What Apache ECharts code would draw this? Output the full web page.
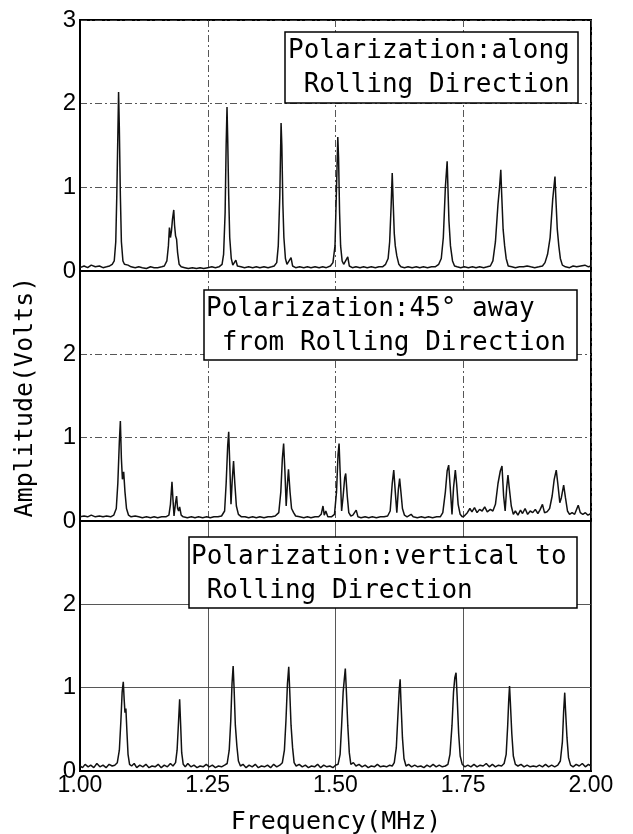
<!DOCTYPE html>
<html>
<head>
<meta charset="utf-8">
<script src="https://cdn.jsdelivr.net/npm/echarts@6/dist/echarts.min.js"></script>
<style>html,body{margin:0;padding:0;background:#fff}#c{width:633px;height:834px}</style>
</head>
<body>
<div id="c"></div>
<script>
// ---- data (frequency MHz, amplitude V) ----
var xTicks = [1.00, 1.25, 1.50, 1.75, 2.00];
var yTicks = [0, 1, 2, 3];
var panelLabels = [
  "Polarization:along\n Rolling Direction",
  "Polarization:45° away\n from Rolling Direction",
  "Polarization:vertical to\n Rolling Direction"
];
var xTitle = "Frequency(MHz)";
var yTitle = "Amplitude(Volts)";

var spectrumAlong = [
[1.000,0.04],[1.008,0.06],[1.015,0.04],[1.022,0.07],[1.030,0.05],[1.038,0.06],[1.045,0.04],[1.052,0.05],[1.058,0.06],[1.063,0.08],
[1.067,0.12],[1.070,0.35],[1.072,0.9],[1.074,1.6],[1.0755,2.14],[1.077,1.7],[1.079,0.9],[1.081,0.35],[1.084,0.12],[1.087,0.08],
[1.090,0.10],[1.094,0.07],[1.100,0.05],[1.108,0.04],[1.115,0.05],[1.122,0.04],[1.130,0.03],[1.138,0.05],[1.145,0.04],[1.152,0.04],
[1.160,0.05],[1.165,0.06],[1.170,0.12],[1.173,0.30],[1.175,0.52],[1.177,0.40],[1.179,0.48],[1.181,0.62],[1.1835,0.73],[1.185,0.55],
[1.187,0.42],[1.189,0.38],[1.191,0.22],[1.194,0.08],[1.198,0.05],[1.205,0.04],[1.212,0.03],[1.220,0.04],[1.228,0.03],[1.235,0.04],
[1.242,0.03],[1.250,0.04],[1.258,0.05],[1.265,0.04],[1.272,0.05],[1.278,0.08],[1.281,0.20],[1.284,0.7],[1.286,1.5],[1.2877,1.96],
[1.289,1.6],[1.291,0.9],[1.293,0.4],[1.296,0.15],[1.299,0.07],[1.301,0.06],[1.305,0.13],[1.308,0.06],[1.315,0.05],[1.322,0.04],
[1.330,0.05],[1.338,0.04],[1.345,0.05],[1.352,0.04],[1.360,0.05],[1.368,0.04],[1.375,0.05],[1.380,0.06],[1.385,0.10],[1.388,0.30],
[1.391,0.9],[1.3935,1.77],[1.395,1.5],[1.397,0.8],[1.399,0.4],[1.402,0.15],[1.405,0.08],[1.408,0.08],[1.413,0.16],[1.416,0.06],
[1.422,0.04],[1.430,0.05],[1.438,0.04],[1.445,0.05],[1.452,0.04],[1.460,0.05],[1.468,0.04],[1.475,0.05],[1.482,0.04],[1.490,0.06],
[1.495,0.10],[1.499,0.30],[1.502,1.0],[1.5045,1.60],[1.506,1.35],[1.508,0.7],[1.510,0.3],[1.513,0.12],[1.516,0.08],[1.519,0.07],
[1.524,0.17],[1.527,0.06],[1.533,0.04],[1.540,0.05],[1.548,0.04],[1.555,0.05],[1.562,0.04],[1.570,0.05],[1.578,0.04],[1.585,0.05],
[1.592,0.05],[1.598,0.08],[1.603,0.15],[1.606,0.35],[1.609,0.8],[1.611,1.17],[1.613,0.8],[1.615,0.45],[1.617,0.30],[1.620,0.18],
[1.624,0.08],[1.628,0.05],[1.635,0.04],[1.642,0.05],[1.650,0.04],[1.658,0.05],[1.665,0.04],[1.672,0.05],[1.680,0.04],[1.688,0.05],
[1.695,0.05],[1.702,0.08],[1.707,0.15],[1.711,0.40],[1.715,1.0],[1.7185,1.31],[1.720,1.0],[1.722,0.6],[1.725,0.3],[1.729,0.12],
[1.733,0.06],[1.738,0.05],[1.745,0.04],[1.752,0.05],[1.760,0.04],[1.768,0.05],[1.775,0.04],[1.782,0.05],[1.790,0.04],[1.797,0.05],
[1.803,0.06],[1.808,0.12],[1.813,0.35],[1.818,0.8],[1.821,1.0],[1.8235,1.21],[1.825,0.95],[1.828,0.5],[1.831,0.3],[1.834,0.15],
[1.838,0.06],[1.845,0.05],[1.852,0.04],[1.860,0.05],[1.868,0.05],[1.875,0.06],[1.882,0.05],[1.890,0.04],[1.898,0.05],[1.905,0.06],
[1.910,0.10],[1.915,0.20],[1.920,0.40],[1.925,0.85],[1.9295,1.13],[1.931,0.9],[1.934,0.5],[1.937,0.3],[1.940,0.15],[1.944,0.07],
[1.950,0.05],[1.958,0.04],[1.965,0.06],[1.972,0.05],[1.980,0.06],[1.988,0.07],[1.995,0.05],[2.000,0.06]
];

var spectrum45 = [
[1.000,0.05],[1.008,0.06],[1.015,0.05],[1.022,0.07],[1.030,0.05],[1.038,0.06],[1.045,0.05],[1.052,0.06],[1.060,0.05],[1.066,0.07],
[1.071,0.15],[1.074,0.45],[1.077,0.95],[1.079,1.20],[1.081,0.75],[1.083,0.50],[1.0855,0.59],[1.088,0.35],[1.091,0.15],[1.095,0.07],
[1.100,0.05],[1.108,0.06],[1.115,0.05],[1.122,0.04],[1.130,0.05],[1.138,0.04],[1.145,0.05],[1.152,0.04],[1.160,0.05],[1.168,0.05],
[1.174,0.07],[1.177,0.20],[1.180,0.47],[1.182,0.25],[1.184,0.06],[1.187,0.22],[1.189,0.30],[1.191,0.15],[1.193,0.12],[1.195,0.17],
[1.198,0.07],[1.202,0.05],[1.210,0.04],[1.218,0.05],[1.225,0.04],[1.232,0.05],[1.240,0.04],[1.248,0.05],[1.255,0.04],[1.262,0.05],
[1.270,0.05],[1.277,0.06],[1.283,0.12],[1.286,0.45],[1.289,0.90],[1.291,1.07],[1.293,0.70],[1.2955,0.20],[1.298,0.50],[1.3005,0.72],
[1.303,0.45],[1.306,0.18],[1.310,0.08],[1.316,0.05],[1.323,0.05],[1.330,0.04],[1.338,0.05],[1.345,0.04],[1.352,0.05],[1.360,0.04],
[1.368,0.05],[1.375,0.05],[1.382,0.06],[1.389,0.10],[1.393,0.35],[1.396,0.75],[1.3985,0.93],[1.401,0.60],[1.4035,0.18],[1.406,0.45],
[1.408,0.62],[1.411,0.35],[1.414,0.15],[1.418,0.10],[1.422,0.06],[1.430,0.05],[1.438,0.04],[1.445,0.05],[1.452,0.04],[1.460,0.05],
[1.467,0.05],[1.472,0.08],[1.4755,0.18],[1.478,0.07],[1.481,0.12],[1.485,0.05],[1.492,0.05],[1.498,0.08],[1.502,0.35],[1.505,0.80],
[1.507,0.93],[1.509,0.60],[1.512,0.12],[1.515,0.30],[1.518,0.52],[1.520,0.57],[1.523,0.30],[1.526,0.10],[1.530,0.06],[1.534,0.07],
[1.5405,0.13],[1.544,0.05],[1.550,0.04],[1.558,0.05],[1.565,0.04],[1.572,0.05],[1.580,0.04],[1.588,0.05],[1.595,0.05],[1.602,0.06],
[1.607,0.12],[1.611,0.45],[1.614,0.61],[1.617,0.35],[1.620,0.10],[1.623,0.38],[1.6255,0.51],[1.628,0.35],[1.631,0.15],[1.635,0.07],
[1.640,0.05],[1.648,0.08],[1.652,0.05],[1.660,0.04],[1.668,0.05],[1.675,0.04],[1.682,0.05],[1.690,0.04],[1.698,0.05],[1.705,0.05],
[1.710,0.10],[1.715,0.35],[1.7185,0.60],[1.7215,0.67],[1.724,0.45],[1.728,0.08],[1.731,0.40],[1.7345,0.61],[1.737,0.45],[1.740,0.20],
[1.744,0.08],[1.748,0.05],[1.752,0.06],[1.758,0.10],[1.763,0.15],[1.767,0.11],[1.772,0.16],[1.777,0.10],[1.782,0.14],[1.787,0.12],
[1.792,0.17],[1.797,0.11],[1.803,0.14],[1.808,0.12],[1.813,0.20],[1.818,0.45],[1.8225,0.60],[1.8258,0.66],[1.829,0.30],[1.832,0.12],
[1.835,0.40],[1.8375,0.55],[1.840,0.40],[1.844,0.18],[1.848,0.08],[1.852,0.12],[1.857,0.07],[1.862,0.13],[1.866,0.09],[1.871,0.15],
[1.876,0.08],[1.881,0.12],[1.886,0.10],[1.891,0.14],[1.896,0.09],[1.900,0.13],[1.905,0.20],[1.909,0.10],[1.914,0.11],[1.919,0.15],
[1.924,0.30],[1.928,0.50],[1.932,0.61],[1.935,0.45],[1.939,0.22],[1.942,0.28],[1.9465,0.43],[1.950,0.28],[1.954,0.12],[1.958,0.08],
[1.963,0.10],[1.968,0.08],[1.975,0.19],[1.979,0.10],[1.984,0.08],[1.989,0.10],[1.994,0.07],[2.000,0.09]
];

var spectrumVertical = [
[1.000,0.06],[1.005,0.04],[1.010,0.08],[1.016,0.05],[1.021,0.07],[1.027,0.04],[1.033,0.09],[1.039,0.05],[1.045,0.07],[1.051,0.04],
[1.057,0.08],[1.063,0.06],[1.068,0.07],[1.073,0.10],[1.077,0.25],[1.080,0.60],[1.0825,0.95],[1.0847,1.07],[1.0865,0.85],[1.088,0.70],
[1.0898,0.75],[1.092,0.45],[1.094,0.20],[1.097,0.08],[1.101,0.06],[1.106,0.09],[1.111,0.04],[1.117,0.07],[1.123,0.05],[1.129,0.08],
[1.135,0.04],[1.141,0.06],[1.147,0.05],[1.153,0.08],[1.159,0.04],[1.165,0.07],[1.171,0.05],[1.177,0.09],[1.182,0.06],[1.187,0.10],
[1.190,0.25],[1.1925,0.55],[1.195,0.86],[1.197,0.55],[1.199,0.22],[1.202,0.08],[1.206,0.05],[1.211,0.09],[1.217,0.05],[1.223,0.07],
[1.229,0.04],[1.235,0.06],[1.241,0.05],[1.247,0.08],[1.253,0.05],[1.259,0.07],[1.265,0.04],[1.271,0.06],[1.277,0.05],[1.283,0.07],
[1.288,0.09],[1.292,0.25],[1.295,0.60],[1.2975,1.05],[1.2997,1.26],[1.3015,1.00],[1.304,0.55],[1.307,0.30],[1.310,0.12],[1.314,0.06],
[1.319,0.08],[1.325,0.04],[1.331,0.07],[1.337,0.05],[1.343,0.08],[1.349,0.04],[1.355,0.06],[1.361,0.05],[1.367,0.07],[1.373,0.04],
[1.379,0.08],[1.385,0.05],[1.391,0.07],[1.396,0.10],[1.400,0.25],[1.403,0.60],[1.406,1.05],[1.4085,1.25],[1.4105,0.95],[1.413,0.55],
[1.416,0.28],[1.419,0.10],[1.423,0.06],[1.429,0.08],[1.435,0.05],[1.441,0.07],[1.447,0.04],[1.453,0.06],[1.459,0.05],[1.465,0.08],
[1.471,0.04],[1.477,0.07],[1.483,0.05],[1.489,0.06],[1.495,0.04],[1.500,0.07],[1.505,0.08],[1.509,0.20],[1.512,0.55],[1.515,0.95],
[1.5172,1.10],[1.5192,1.23],[1.521,1.00],[1.524,0.55],[1.527,0.22],[1.530,0.08],[1.535,0.10],[1.540,0.06],[1.546,0.08],[1.552,0.05],
[1.558,0.07],[1.564,0.04],[1.570,0.06],[1.576,0.05],[1.582,0.08],[1.588,0.05],[1.594,0.06],[1.600,0.05],[1.606,0.07],[1.611,0.06],
[1.615,0.10],[1.619,0.28],[1.622,0.65],[1.6245,0.95],[1.6265,1.10],[1.628,0.85],[1.631,0.40],[1.634,0.15],[1.638,0.06],[1.643,0.08],
[1.649,0.05],[1.655,0.07],[1.661,0.05],[1.667,0.06],[1.673,0.04],[1.679,0.07],[1.685,0.05],[1.691,0.08],[1.697,0.05],[1.703,0.07],
[1.709,0.05],[1.715,0.06],[1.720,0.08],[1.724,0.20],[1.728,0.55],[1.731,0.95],[1.7335,1.12],[1.7359,1.18],[1.738,0.90],[1.741,0.45],
[1.744,0.18],[1.748,0.08],[1.753,0.05],[1.759,0.07],[1.765,0.05],[1.771,0.08],[1.777,0.05],[1.783,0.07],[1.789,0.06],[1.795,0.09],
[1.801,0.05],[1.807,0.08],[1.813,0.05],[1.819,0.07],[1.825,0.06],[1.830,0.09],[1.834,0.20],[1.837,0.55],[1.839,0.85],[1.8406,1.02],
[1.842,0.85],[1.845,0.45],[1.848,0.18],[1.852,0.08],[1.857,0.06],[1.863,0.08],[1.869,0.05],[1.875,0.07],[1.881,0.05],[1.887,0.06],
[1.893,0.05],[1.899,0.07],[1.905,0.05],[1.911,0.08],[1.917,0.05],[1.923,0.07],[1.929,0.05],[1.935,0.07],[1.940,0.12],[1.944,0.35],
[1.9465,0.72],[1.9486,0.94],[1.950,0.75],[1.953,0.40],[1.956,0.16],[1.960,0.07],[1.965,0.05],[1.971,0.08],[1.977,0.06],[1.983,0.09],
[1.989,0.05],[1.995,0.08],[2.000,0.06]
];

var spectra = [spectrumAlong, spectrum45, spectrumVertical];

// ---- layout ----
var chart = echarts.init(document.getElementById('c'), null, {renderer: 'canvas'});
var gridTops = [20, 271, 521];
var gridH = [251, 250, 250];
var monoFont = "'DejaVu Sans Mono', 'Liberation Mono', monospace";
var numFont = "'Liberation Sans', Arial, sans-serif";
var gridDash = [[7, 3, 2, 3], [7, 3, 2, 3], 'solid'];
var boxes = [
  {x: 285, y: 32, w: 293, h: 71, tx: 288, ty: 34},
  {x: 204, y: 290, w: 373, h: 70, tx: 206, ty: 292},
  {x: 189, y: 537, w: 388, h: 71, tx: 191, ty: 540}
];

var grids = [], xAxes = [], yAxes = [], series = [], graphics = [];
for (var i = 0; i < 3; i++) {
  grids.push({left: 80, width: 511, top: gridTops[i], height: gridH[i], show: true,
    borderColor: '#000', borderWidth: 2, backgroundColor: 'transparent', containLabel: false});
  xAxes.push({
    type: 'value', gridIndex: i, min: xTicks[0], max: xTicks[xTicks.length - 1], interval: 0.25,
    axisLine: {show: true, lineStyle: {color: '#000', width: 2}},
    axisTick: {show: false},
    axisLabel: {show: i === 2, color: '#000', fontFamily: numFont, fontSize: 23, margin: 3,
      formatter: function (v) { return v.toFixed(2); }},
    splitLine: {show: true, lineStyle: {color: '#444', width: 0.9, type: gridDash[i]}}
  });
  yAxes.push({
    type: 'value', gridIndex: i, min: yTicks[0], max: yTicks[yTicks.length - 1], interval: 1,
    axisLine: {show: true, lineStyle: {color: '#000', width: 2}},
    axisTick: {show: false},
    axisLabel: {show: true, color: '#000', fontFamily: numFont, fontSize: 24, margin: 4,
      showMaxLabel: i === 0},
    splitLine: {show: true, lineStyle: {color: '#444', width: 0.9, type: gridDash[i]}}
  });
  series.push({
    type: 'line', xAxisIndex: i, yAxisIndex: i, data: spectra[i], showSymbol: false,
    symbol: 'none', lineStyle: {color: '#111', width: 1.5}, z: 3
  });
  var b = boxes[i];
  graphics.push({type: 'rect', shape: {x: b.x, y: b.y, width: b.w, height: b.h},
    style: {fill: '#fff', stroke: '#000', lineWidth: 1.5}, z: 100});
  graphics.push({type: 'text', x: b.tx, y: b.ty, z: 101,
    style: {text: panelLabels[i], fill: '#000', font: '26px ' + monoFont, lineHeight: 34,
      textAlign: 'left', textVerticalAlign: 'top'}});
}
graphics.push({type: 'text', x: 25, y: 397, rotation: Math.PI / 2, z: 101,
  style: {text: yTitle, fill: '#000', font: '25px ' + monoFont, textAlign: 'center', textVerticalAlign: 'middle'}});
graphics.push({type: 'text', x: 336, y: 822, z: 101,
  style: {text: xTitle, fill: '#000', font: '25px ' + monoFont, textAlign: 'center', textVerticalAlign: 'middle'}});

chart.setOption({
  animation: false,
  backgroundColor: '#fff',
  grid: grids,
  xAxis: xAxes,
  yAxis: yAxes,
  series: series,
  graphic: graphics
});
</script>
</body>
</html>
